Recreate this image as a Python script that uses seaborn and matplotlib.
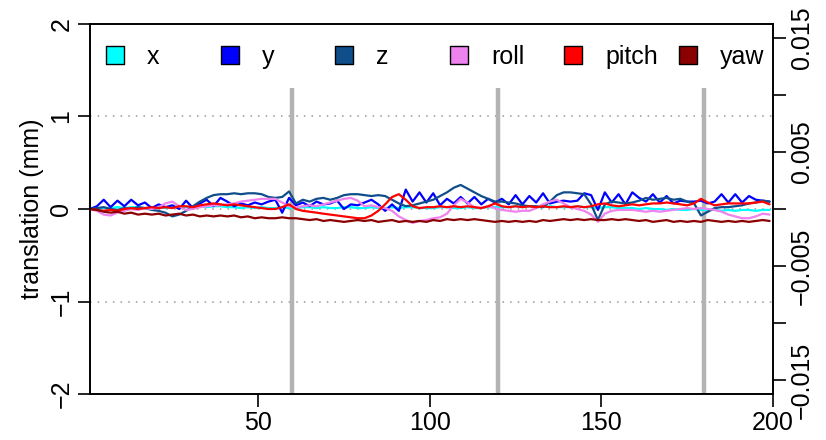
import matplotlib.pyplot as plt
import numpy as np
import pandas as pd
import seaborn as sns

sns.set_theme(style="ticks")
plt.rcParams['font.family'] = ['Liberation Sans', 'DejaVu Sans']
plt.rcParams['text.color'] = 'black'
plt.rcParams['axes.labelcolor'] = 'black'
plt.rcParams['xtick.color'] = 'black'
plt.rcParams['ytick.color'] = 'black'

# frames (every second volume)
frames = np.arange(1, 200, 2)
block_edges = [60, 120, 180]

# translations (mm)
trans_x = [0.00, 0.00, 0.01, 0.01, 0.02, 0.01, 0.02, 0.02, 0.01, 0.02,
           0.02, 0.01, 0.02, 0.03, 0.02, 0.03, 0.03, 0.02, 0.03, 0.03,
           0.02, 0.02, 0.01, 0.02, 0.01, 0.02, 0.01, 0.01, 0.02, 0.01,
           0.01, 0.02, 0.02, 0.01, 0.02, 0.01, 0.01, 0.02, 0.02, 0.01,
           0.01, 0.02, 0.01, 0.01, 0.02, 0.01, 0.02, 0.02, 0.01, 0.01,
           0.01, 0.02, 0.02, 0.01, 0.01, 0.02, 0.01, 0.01, 0.02, 0.02,
           0.02, 0.02, 0.03, 0.02, 0.03, 0.02, 0.02, 0.03, 0.02, 0.02,
           0.02, 0.03, 0.02, 0.02, 0.01, 0.02, 0.02, 0.01, 0.01, 0.01,
           0.00, 0.01, 0.00, 0.00, -0.01, 0.00, -0.01, -0.01, 0.00, -0.01,
           -0.01, -0.01, -0.02, -0.01, -0.02, -0.01, -0.01, -0.02, -0.01, -0.01]
trans_y = [0.00, 0.03, 0.10, 0.02, 0.09, 0.03, 0.10, 0.04, 0.07, 0.01,
           0.05, 0.02, 0.04, 0.00, 0.09, 0.01, 0.06, 0.10, 0.03, 0.12,
           0.08, 0.03, 0.06, 0.04, 0.07, 0.05, 0.08, 0.10, -0.04, 0.12,
           0.04, 0.07, 0.03, 0.08, 0.05, 0.06, 0.09, 0.00, 0.05, 0.04,
           0.07, 0.10, 0.05, -0.02, 0.05, -0.02, 0.21, 0.08, 0.18, 0.07,
           0.17, 0.04, 0.11, 0.06, 0.13, 0.06, 0.13, 0.05, 0.11, 0.07,
           0.11, 0.05, 0.15, 0.05, 0.14, 0.07, 0.17, 0.06, 0.08, 0.09,
           0.08, 0.09, 0.17, 0.15, -0.01, 0.18, 0.07, 0.16, 0.05, 0.18,
           0.12, 0.08, 0.16, 0.07, 0.14, 0.06, 0.09, 0.08, 0.08, 0.09,
           0.06, 0.08, 0.16, 0.07, 0.16, 0.07, 0.14, 0.10, 0.09, 0.08]
trans_z = [0.00, 0.01, 0.02, 0.00, -0.01, 0.01, 0.00, 0.02, 0.01, -0.01,
           -0.02, -0.04, -0.08, -0.06, -0.02, 0.03, 0.08, 0.12, 0.15, 0.16,
           0.16, 0.17, 0.16, 0.17, 0.17, 0.16, 0.13, 0.12, 0.13, 0.19,
           0.06, 0.10, 0.08, 0.11, 0.12, 0.10, 0.12, 0.15, 0.16, 0.16,
           0.15, 0.14, 0.15, 0.14, 0.10, 0.06, 0.03, 0.04, 0.06, 0.08,
           0.10, 0.14, 0.18, 0.23, 0.26, 0.22, 0.18, 0.14, 0.11, 0.08,
           0.08, 0.07, 0.06, 0.04, 0.03, 0.03, 0.02, 0.08, 0.15, 0.18,
           0.18, 0.17, 0.16, 0.05, -0.12, 0.05, 0.08, 0.07, 0.06, 0.07,
           0.09, 0.12, 0.10, 0.11, 0.12, 0.10, 0.11, 0.08, 0.06, -0.07,
           -0.03, 0.01, 0.02, 0.02, 0.03, 0.04, 0.06, 0.07, 0.09, 0.08]

# rotations (mrad)
roll_mrad = [0.00, -0.16, -0.49, -0.57, -0.32, -0.16, 0.00, -0.08, 0.08, 0.00,
             0.16, 0.49, 0.65, 0.24, -0.08, 0.00, 0.16, 0.24, 0.32, 0.32,
             0.41, 0.49, 0.65, 0.73, 0.81, 0.89, 0.89, 0.89, 0.57, 0.24,
             0.16, 0.24, 0.32, 0.24, 0.41, 0.57, 0.73, 0.89, 0.97, 0.73,
             0.24, 0.32, 0.16, 0.08, -0.16, -0.65, -0.97, -1.22, -1.05, -0.97,
             -0.81, -0.73, -0.41, 0.32, 0.89, 0.57, 0.16, 0.08, 0.24, 0.08,
             -0.08, -0.16, -0.24, -0.16, -0.16, 0.08, 0.41, 0.65, 0.81, 0.49,
             0.16, 0.00, -0.16, -0.49, -1.13, -0.41, -0.16, -0.08, -0.08, -0.08,
             -0.16, -0.24, -0.16, -0.24, -0.16, -0.08, 0.00, 0.08, 0.00, 0.08,
             0.00, -0.08, -0.24, -0.49, -0.65, -0.81, -0.81, -0.65, -0.41, -0.49]
pitch_mrad = [0.00, -0.08, -0.16, -0.08, -0.16, 0.00, 0.08, 0.00, 0.08, 0.16,
              0.08, 0.16, 0.08, 0.24, 0.24, 0.16, 0.32, 0.41, 0.49, 0.41,
              0.32, 0.41, 0.32, 0.24, 0.16, 0.08, 0.00, 0.00, 0.16, 0.41,
              0.00, -0.16, -0.24, -0.32, -0.41, -0.49, -0.57, -0.65, -0.73, -0.81,
              -0.81, -0.57, -0.16, 0.41, 1.05, 1.30, 0.81, 0.24, 0.08, 0.16,
              0.16, 0.24, 0.16, 0.24, 0.16, 0.24, 0.16, 0.08, 0.24, 0.49,
              0.24, 0.16, 0.24, 0.16, 0.24, 0.16, 0.24, 0.16, 0.16, 0.24,
              0.16, 0.24, 0.16, 0.24, 0.41, 0.49, 0.32, 0.24, 0.32, 0.41,
              0.32, 0.41, 0.49, 0.49, 0.57, 0.49, 0.41, 0.32, 0.49, 0.89,
              0.57, 0.32, 0.41, 0.49, 0.49, 0.49, 0.49, 0.57, 0.65, 0.41]
yaw_mrad = [0.00, -0.08, -0.24, -0.32, -0.24, -0.41, -0.32, -0.49, -0.41, -0.49,
            -0.41, -0.57, -0.49, -0.41, -0.57, -0.49, -0.65, -0.57, -0.65, -0.57,
            -0.65, -0.57, -0.73, -0.65, -0.81, -0.73, -0.81, -0.81, -0.73, -0.81,
            -0.81, -0.89, -0.97, -0.89, -1.05, -0.97, -1.05, -1.13, -1.05, -0.97,
            -1.05, -0.97, -1.13, -1.05, -0.97, -1.13, -1.05, -1.13, -1.05, -1.13,
            -0.97, -1.05, -0.89, -0.97, -0.89, -0.97, -0.89, -0.97, -1.05, -1.13,
            -1.05, -1.13, -1.05, -1.13, -1.05, -1.13, -0.97, -1.05, -0.97, -0.89,
            -0.97, -0.89, -0.97, -0.89, -0.97, -0.97, -0.89, -0.97, -0.89, -0.97,
            -1.05, -0.97, -1.13, -1.05, -0.97, -1.13, -1.05, -1.13, -1.05, -1.13,
            -0.97, -1.05, -1.13, -1.05, -1.13, -1.05, -1.13, -1.05, -0.97, -1.05]

names = ['x', 'y', 'z', 'roll', 'pitch', 'yaw']
colors = {'x': '#00FFFF', 'y': '#0000FF', 'z': '#104E8B',
          'roll': '#EE82EE', 'pitch': '#FF0000', 'yaw': '#8B0000'}

df_t = pd.DataFrame({'frame': frames, 'x': trans_x, 'y': trans_y, 'z': trans_z})
df_t = df_t.melt('frame', var_name='param', value_name='mm')
df_r = pd.DataFrame({'frame': frames,
                     'roll': np.array(roll_mrad) / 1000,
                     'pitch': np.array(pitch_mrad) / 1000,
                     'yaw': np.array(yaw_mrad) / 1000})
df_r = df_r.melt('frame', var_name='param', value_name='rad')

fs = 18
fig = plt.figure(figsize=(8.26, 4.40), dpi=100)
ax = fig.add_axes([90 / 826, 46 / 440, 683 / 826, 370 / 440])

# reference lines
ax.vlines(block_edges, -2, 1.31, color='#b3b3b3', lw=3.2, zorder=1)
for h in [-1, 0, 1]:
    ax.axhline(h, color='#999999', lw=1.1, ls=(0, (1, 4)), zorder=0)

sns.lineplot(data=df_t, x='frame', y='mm', hue='param', palette=colors,
             ax=ax, legend=False, lw=1.6, estimator=None, sort=False)
ax.set_xlim(1, 200)
ax.set_ylim(-2, 2)

ax2 = ax.twinx()
sns.lineplot(data=df_r, x='frame', y='rad', hue='param', palette=colors,
             ax=ax2, legend=False, lw=1.6, estimator=None, sort=False)
ax2.set_ylim(-0.01623, 0.01623)
ax2.set_xlim(1, 200)

# axes styling
ax.set_xlabel('')
ax.set_ylabel('translation (mm)', fontsize=fs, labelpad=4, color='black')
ax2.set_ylabel('')
ax.set_xticks([50, 100, 150, 200])
ax.set_xticklabels(['50', '100', '150', '200'])
ax.set_yticks([-2, -1, 0, 1, 2])
ax.set_yticklabels(['\u22122', '\u22121', '0', '1', '2'], rotation=90, va='center')
ax2.set_yticks([-0.015, -0.01, -0.005, 0, 0.005, 0.01, 0.015])
ax2.set_yticklabels(['\u22120.015', '', '\u22120.005', '', '0.005', '', '0.015'],
                    rotation=90, va='center')
for a in (ax, ax2):
    a.tick_params(length=9, width=1.2, labelsize=fs, color='black',
                  labelcolor='black', pad=3)
    for s in a.spines.values():
        s.set_linewidth(1.2)
        s.set_color('black')
        s.set_visible(True)

# legend in one row
for i, n in enumerate(names):
    xa = 0.0366 + i * 0.1678
    ax2.scatter([xa], [0.916], transform=ax2.transAxes, marker='s', s=170,
                color=colors[n], edgecolors='black', linewidths=1.0,
                clip_on=False, zorder=6)
    ax2.text(xa + 0.047, 0.912, n, transform=ax2.transAxes, va='center',
             ha='left', fontsize=fs, color='black')

fig.savefig('out.png', dpi=100)
